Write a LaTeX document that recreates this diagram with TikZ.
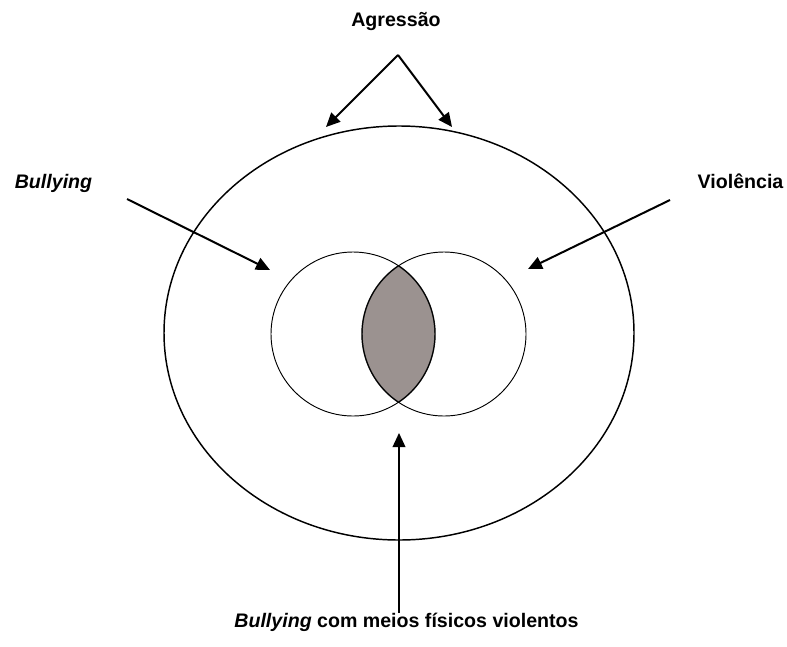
\documentclass[tikz,border=0pt]{standalone}
\usepackage{fontspec}
\setmainfont{Liberation Sans}
\usetikzlibrary{arrows.meta}
\definecolor{lensfill}{RGB}{155,146,144}
\begin{document}
\begin{tikzpicture}[x=0.75pt,y=-0.75pt,
  lbl/.style={font=\fontsize{14.7}{17}\selectfont\bfseries, inner sep=0pt, anchor=base},
  arr/.style={line width=1.5pt, -{Triangle[length=10.5pt,width=9.5pt]}},
  thincirc/.style={line width=0.7pt},
]
\useasboundingbox (0,0) rectangle (787,646);
% outer ellipse
\draw[line width=1.1pt] (399,333) ellipse [x radius=235, y radius=207];
% lens
\begin{scope}
  \clip (353,334) circle [radius=82];
  \fill[lensfill] (444,334) circle [radius=82];
\end{scope}
\begin{scope}
  \clip (353,334) circle [radius=82];
  \draw[line width=1.1pt, black!75] (444,334) circle [radius=82];
\end{scope}
\begin{scope}
  \clip (444,334) circle [radius=82];
  \draw[line width=1.1pt, black!75] (353,334) circle [radius=82];
\end{scope}
\draw[thincirc] (353,334) circle [radius=82];
\draw[thincirc] (444,334) circle [radius=82];
% labels
\node[lbl] (agr) at (396,26.5) {Agressão};
\node[lbl] (bul) at (53.5,188) {\itshape Bullying};
\node[lbl] (vio) at (740.5,188) {Violência};
\node[lbl] (bot) at (406.5,627.5) {\textit{Bullying} com meios físicos violentos};
% coordinates
\coordinate (apex) at (398,55);
\coordinate (tagl) at (326,127);
\coordinate (tagr) at (452,127);
\coordinate (bs) at (127,199);
\coordinate (bt) at (270,270);
\coordinate (vs) at (670,200);
\coordinate (vt) at (528,269);
\coordinate (ls) at (399,613);
\coordinate (lt) at (399,433);
% arrows
\draw[arr] (apex) -- (tagl);
\draw[arr] (apex) -- (tagr);
\draw[arr] (bs) -- (bt);
\draw[arr] (vs) -- (vt);
\draw[arr, line width=1.2pt] (ls) -- (lt);
\end{tikzpicture}
\end{document}
